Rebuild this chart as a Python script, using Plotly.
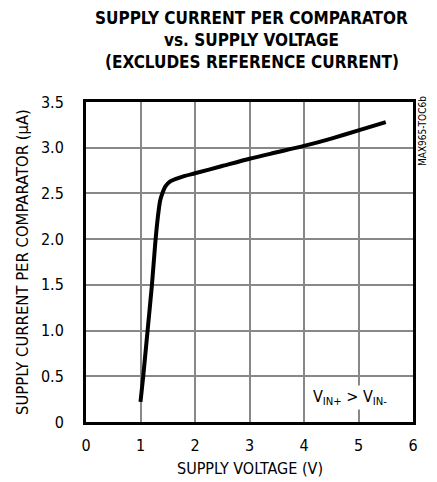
import plotly.graph_objects as go

voltage = [1.0, 1.05, 1.13, 1.21, 1.27, 1.32, 1.36, 1.40, 1.46, 1.54, 1.65, 1.8, 2.0, 2.5, 3.0, 3.5, 4.0, 4.5, 5.0, 5.5]
current = [0.22, 0.5, 1.0, 1.5, 1.95, 2.25, 2.42, 2.5, 2.58, 2.63, 2.66, 2.69, 2.72, 2.80, 2.88, 2.95, 3.02, 3.10, 3.19, 3.28]

x_ticks = [0, 1, 2, 3, 4, 5, 6]
y_ticks = [0, 0.5, 1.0, 1.5, 2.0, 2.5, 3.0, 3.5]
y_tick_labels = ["0", "0.5", "1.0", "1.5", "2.0", "2.5", "3.0", "3.5"]
title_lines = ["SUPPLY CURRENT PER COMPARATOR", "vs. SUPPLY VOLTAGE", "(EXCLUDES REFERENCE CURRENT)"]

FONT = "DejaVu Sans Condensed, Liberation Sans Narrow, sans-serif"

fig = go.Figure()
fig.add_trace(go.Scatter(x=voltage, y=current, mode="lines",
                         line=dict(color="black", width=4, shape="spline", smoothing=0.6),
                         showlegend=False, hoverinfo="skip"))

fig.update_layout(
    width=429, height=474,
    margin=dict(l=78, r=24, t=94, b=60, autoexpand=False),
    paper_bgcolor="white", plot_bgcolor="white",
    font=dict(family=FONT, size=16, color="black"),
)
fig.update_xaxes(range=[0, 6], tickvals=x_ticks, showgrid=True, gridcolor="#888888", gridwidth=1.5,
                 showline=True, linecolor="black", linewidth=3, mirror=True, zeroline=False,
                 ticks="", ticklabelstandoff=7, tickfont=dict(size=16), automargin=False)
fig.update_yaxes(range=[0, 3.5], tickvals=y_ticks, ticktext=y_tick_labels, showgrid=True,
                 gridcolor="#888888", gridwidth=1.5,
                 showline=True, linecolor="black", linewidth=3, mirror=True, zeroline=False,
                 ticks="", ticklabelstandoff=16, tickfont=dict(size=16), automargin=False)

for line, shift in zip(title_lines, [84, 62, 40]):
    fig.add_annotation(x=0.5, y=1, xref="paper", yref="paper", xanchor="center", yanchor="middle",
                       xshift=2, yshift=shift, text="<b>" + line + "</b>", showarrow=False,
                       borderpad=0, font=dict(family=FONT, size=17, color="black"))

fig.add_annotation(x=0.5, y=0, xref="paper", yref="paper", xanchor="center", yanchor="middle",
                   yshift=-46, text="SUPPLY VOLTAGE (V)", showarrow=False,
                   font=dict(family=FONT, size=16, color="black"))
fig.add_annotation(x=0, y=0.5, xref="paper", yref="paper", xanchor="center", yanchor="middle",
                   xshift=-64, textangle=-90, text="SUPPLY CURRENT PER COMPARATOR (µA)", showarrow=False,
                   font=dict(family=FONT, size=16.5, color="black"))

fig.add_annotation(x=4.84, y=0.27, xref="x", yref="y",
                   text="V<sub>IN+</sub> > V<sub>IN-</sub>", showarrow=False,
                   bgcolor="white", font=dict(family=FONT, size=16, color="black"))
fig.add_annotation(x=1.0, y=1.0, xref="paper", yref="paper", xanchor="center", yanchor="top",
                   xshift=9, yshift=8, text="MAX965-TOC6b", textangle=-90, showarrow=False,
                   font=dict(family=FONT, size=10, color="black"))

fig.write_html("out.html")
